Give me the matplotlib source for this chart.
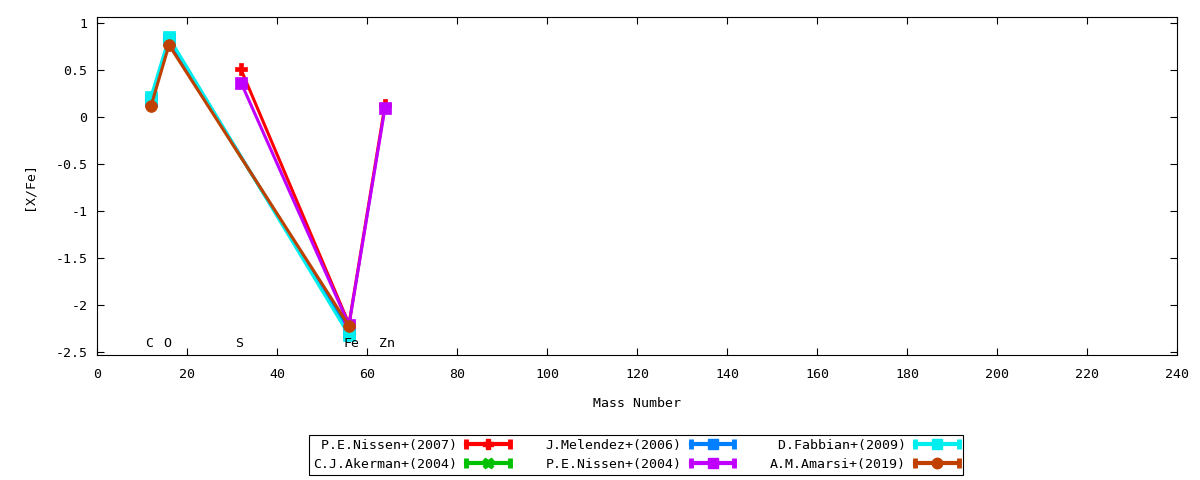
import matplotlib
matplotlib.use("Agg")
import matplotlib.pyplot as plt
from matplotlib.lines import Line2D
from matplotlib.legend_handler import HandlerLine2D, HandlerTuple
from matplotlib.ticker import FuncFormatter, MultipleLocator

plt.rcParams['font.family'] = ['DejaVu Sans Mono']
plt.rcParams['axes.unicode_minus'] = False

# ---- data ----
elements = ["C", "O", "S", "Fe", "Zn"]
element_mass = [12, 16, 32, 56, 64]

labels = ["P.E.Nissen+(2007)", "C.J.Akerman+(2004)", "J.Melendez+(2006)",
          "P.E.Nissen+(2004)", "D.Fabbian+(2009)", "A.M.Amarsi+(2019)"]
nissen07_x = [32, 56, 64]
nissen07_y = [0.51, -2.20, 0.13]
akerman04_x = [12, 16, 56]
akerman04_y = [0.15, 0.80, -2.26]
melendez06_x = [12, 16, 56]
melendez06_y = [0.18, 0.83, -2.29]
nissen04_x = [32, 56, 64]
nissen04_y = [0.37, -2.21, 0.10]
fabbian09_x = [12, 16, 56]
fabbian09_y = [0.22, 0.85, -2.32]
amarsi19_x = [12, 16, 56]
amarsi19_y = [0.12, 0.77, -2.22]

series_x = [nissen07_x, akerman04_x, melendez06_x, nissen04_x, fabbian09_x, amarsi19_x]
series_y = [nissen07_y, akerman04_y, melendez06_y, nissen04_y, fabbian09_y, amarsi19_y]
colors = ["#ff0000", "#00c000", "#0080ff", "#c000ff", "#00eeee", "#c04000"]
markers = ["P", "X", "s", "s", "s", "o"]
msizes = [8, 8, 8.5, 8.5, 9, 8.5]

fig = plt.figure(figsize=(12, 4.8), dpi=100)
ax = fig.add_axes([97/1200, 1 - 355/480, (1177-97)/1200, (355-17.3)/480])

for x, y, c, m, ms in zip(series_x, series_y, colors, markers, msizes):
    ax.plot(x, y, color=c, lw=2.2, marker=m, ms=ms, mec=c, mfc=c, mew=0.5)

for el, mx in zip(elements, element_mass):
    ax.annotate(el, xy=(mx, -2.41), xytext=(-4, 0), textcoords="offset points",
                ha="left", va="center", fontsize=9.5)

ax.set_xlim(0, 240)
ax.set_ylim(-2.53, 1.065)
ax.xaxis.set_major_locator(MultipleLocator(20))
ax.yaxis.set_major_locator(MultipleLocator(0.5))
ax.yaxis.set_major_formatter(FuncFormatter(lambda v, p: "%g" % round(v, 2)))
ax.tick_params(direction="in", length=5, width=0.8, top=True, right=True,
               labelsize=9.5)
ax.tick_params(axis="x", pad=9)
ax.tick_params(axis="y", pad=7)
for s in ax.spines.values():
    s.set_linewidth(0.8)
ax.set_xlabel("Mass Number", fontsize=9.5, labelpad=12)
ax.set_ylabel("[X/Fe]", fontsize=9.5, labelpad=14)

# ---- legend with gnuplot-like samples ----
handles = []
hmap = {tuple: HandlerTuple(ndivide=1, pad=0)}
for c, m in zip(colors, markers):
    cap = Line2D([], [], color=c, lw=3.0, marker="|", ms=7, mew=3.5)
    mk = Line2D([], [], color=c, ls="none", marker=m, ms=7.5, mec=c, mfc=c)
    hmap[cap] = HandlerLine2D(numpoints=2, marker_pad=0)
    hmap[mk] = HandlerLine2D(numpoints=1)
    handles.append((cap, mk))

maxlen = [max(len(labels[0]), len(labels[1])), max(len(labels[2]), len(labels[3])),
          max(len(labels[4]), len(labels[5]))]
padded = []
for i, lab in enumerate(labels):
    col = i // 2
    padded.append(" " * (maxlen[col] - len(lab)) + lab)

leg = fig.legend(handles, padded, handler_map=hmap, ncol=3, markerfirst=False,
                 loc="center", bbox_to_anchor=(636/1200, 1 - 455/480),
                 fontsize=9.5, frameon=True, fancybox=False, framealpha=1,
                 edgecolor="black", handlelength=3.3, handletextpad=0.7,
                 columnspacing=2.7, labelspacing=0.45, borderpad=0.3,
                 borderaxespad=0)
leg.get_frame().set_linewidth(0.8)

fig.savefig("out.png", dpi=100)
